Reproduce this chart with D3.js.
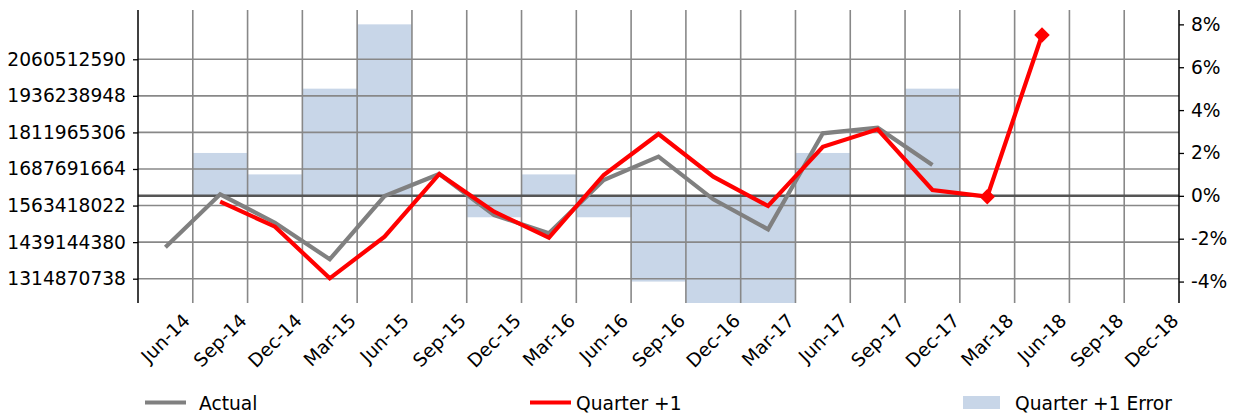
<!DOCTYPE html>
<html><head><meta charset="utf-8">
<script src="https://cdn.jsdelivr.net/npm/d3@7"></script>
<style>body{margin:0;background:#fff}svg{display:block}text{font-family:"DejaVu Sans",sans-serif}</style>
</head><body>
<svg id="c" width="1239" height="415"></svg>
<script>
const categories = ["Jun-14","Sep-14","Dec-14","Mar-15","Jun-15","Sep-15","Dec-15","Mar-16","Jun-16","Sep-16","Dec-16","Mar-17","Jun-17","Sep-17","Dec-17","Mar-18","Jun-18","Sep-18","Dec-18"];
const actual = [1421.6e6,1601.7e6,1505.2e6,1380.8e6,1595.9e6,1670.7e6,1531.3e6,1469.2e6,1650.3e6,1729.5e6,1584.7e6,1482.7e6,1809.0e6,1828.0e6,1701.3e6,null,null,null,null];
const quarterPlus1 = [null,1576.5e6,1491.6e6,1316.2e6,1457.6e6,1670.7e6,1542.5e6,1454.2e6,1667.3e6,1806.6e6,1661.5e6,1561.9e6,1763.4e6,1822.6e6,1616.3e6,1593.5e6,2143.0e6,null,null];
const errorPct = [null,2,1,5,8,0,-1,1,-1,-4,-5,-5,2,0,5,null,null,null,null];
const markerIdx = [15,16];
const leftTicks = [1314870738,1439144380,1563418022,1687691664,1811965306,1936238948,2060512590];
const rightTicks = [-4,-2,0,2,4,6,8];

const FS = 18.67;
const svg = d3.select("#c");
const L = 138, R = 1179, T = 10, B = 303;
const x = d3.scaleBand().domain(categories).range([L, R]);
const yL = d3.scaleLinear().domain([1232293506, 2227977826]).range([B, T]);
const yR = d3.scaleLinear().domain([-5, 8.67]).range([B, T]);

// bars
svg.append("g").selectAll("rect").data(categories.map((c,i)=>({c,v:errorPct[i]})).filter(d=>d.v!==null && d.v!==0))
  .join("rect")
  .attr("x", d=>x(d.c)).attr("width", x.bandwidth())
  .attr("y", d=>yR(Math.max(0,d.v))).attr("height", d=>Math.abs(yR(d.v)-yR(0)))
  .attr("fill","lightsteelblue").attr("fill-opacity",0.7);

// grid
const grid = svg.append("g").attr("stroke","#888").attr("stroke-width",1.6);
categories.slice(1).forEach(c=>{
  grid.append("line").attr("x1",x(c)).attr("x2",x(c)).attr("y1",T).attr("y2",B);
});
leftTicks.forEach(v=>{
  grid.append("line").attr("x1",L).attr("x2",R).attr("y1",yL(v)).attr("y2",yL(v));
});
// zero line
svg.append("line").attr("x1",L).attr("x2",R).attr("y1",yR(0)).attr("y2",yR(0)).attr("stroke","#555").attr("stroke-width",2.5);

// axes
const ax = d3.axisLeft(yL).tickValues(leftTicks).tickFormat(d=>String(d)).tickSize(5).tickPadding(7);
const gL = svg.append("g").attr("transform",`translate(${L},0)`).call(ax);
const ar = d3.axisRight(yR).tickValues(rightTicks).tickFormat(d=>d+"%").tickSize(5).tickPadding(7);
const gR = svg.append("g").attr("transform",`translate(${R},0)`).call(ar);
[gL,gR].forEach(g=>{
  g.select(".domain").remove();
  g.selectAll("text").attr("font-size",FS).attr("font-family","DejaVu Sans").attr("fill","#000");
  g.selectAll("line").attr("stroke","#000").attr("stroke-width",1.3);
});
svg.append("line").attr("x1",L).attr("x2",L).attr("y1",T).attr("y2",B).attr("stroke","#000").attr("stroke-width",1.5);
svg.append("line").attr("x1",R).attr("x2",R).attr("y1",T).attr("y2",B).attr("stroke","#000").attr("stroke-width",1.5);

// lines
const cx = c => x(c) + x.bandwidth()/2;
const lineA = d3.line().defined(d=>d.v!==null).x(d=>cx(d.c)).y(d=>yL(d.v));
svg.append("path").datum(categories.map((c,i)=>({c,v:actual[i]})))
  .attr("d",lineA).attr("fill","none").attr("stroke","#808080").attr("stroke-width",4.2);
svg.append("path").datum(categories.map((c,i)=>({c,v:quarterPlus1[i]})))
  .attr("d",lineA).attr("fill","none").attr("stroke","#ff0000").attr("stroke-width",4.2).attr("stroke-linejoin","miter");
svg.append("g").selectAll("path").data(markerIdx).join("path")
  .attr("d", d3.symbol().type(d3.symbolSquare).size(120))
  .attr("transform", i=>`translate(${cx(categories[i])},${yL(quarterPlus1[i])}) rotate(45)`)
  .attr("fill","#ff0000");

// x labels
const xl = svg.append("g");
categories.forEach(c=>{
  const t = xl.append("text").text(c).attr("font-size",FS).attr("text-anchor","middle").attr("dominant-baseline","central");
  const w = t.node().getComputedTextLength();
  const h = 17.5;
  const H = (w+h)/Math.SQRT2;
  const px = cx(c), py = 311 + H/2;
  t.attr("x",px).attr("y",py).attr("transform",`rotate(-45,${px},${py})`);
});

// legend
const lg = svg.append("g");
lg.append("line").attr("x1",145).attr("x2",186).attr("y1",402.5).attr("y2",402.5).attr("stroke","#808080").attr("stroke-width",4.2);
lg.append("text").attr("x",199).attr("y",409.5).attr("font-size",FS).text("Actual");
lg.append("line").attr("x1",530).attr("x2",571).attr("y1",402.5).attr("y2",402.5).attr("stroke","#ff0000").attr("stroke-width",4.2);
lg.append("text").attr("x",576).attr("y",409.5).attr("font-size",FS).text("Quarter +1");
lg.append("rect").attr("x",963).attr("y",396).attr("width",37).attr("height",13).attr("fill","lightsteelblue").attr("fill-opacity",0.7);
lg.append("text").attr("x",1015).attr("y",409.5).attr("font-size",FS).text("Quarter +1 Error");
</script>
</body></html>
